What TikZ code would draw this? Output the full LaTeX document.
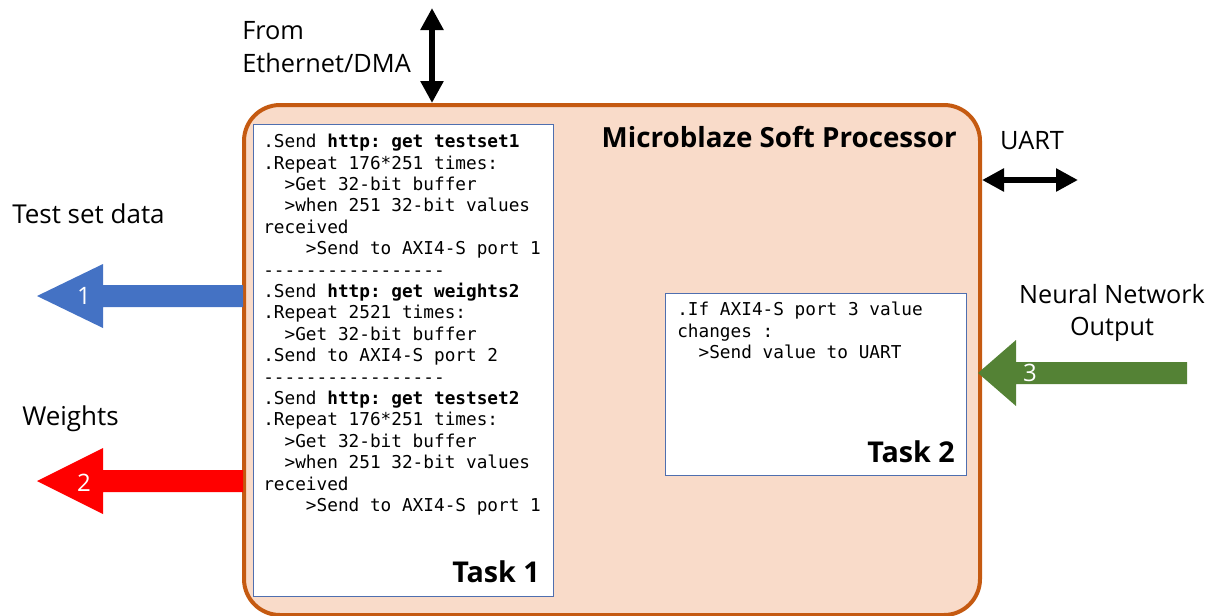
\documentclass[tikz,border=0pt]{standalone}
\usepackage{fontspec}
\setmainfont{Open Sans}
\setmonofont{DejaVu Sans Mono}
\usetikzlibrary{arrows.meta}
\definecolor{procedge}{HTML}{C55A11}
\definecolor{procfill}{HTML}{F9DBC9}
\definecolor{taskedge}{HTML}{4F6FAF}
\definecolor{testblue}{HTML}{4472C4}
\definecolor{weightred}{HTML}{FF0000}
\definecolor{outgreen}{HTML}{548235}
\tikzset{
  procbox/.style={draw=procedge, line width=3pt, fill=procfill, rounded corners=27pt,
    anchor=north west, inner sep=0pt},
  taskbox/.style={draw=taskedge, line width=0.8pt, fill=white, anchor=north west, inner sep=0pt},
  codetext/.style={font=\ttfamily\fontsize{13.3}{16.05}\selectfont, align=left,
    anchor=north west, inner sep=0pt},
  sidetext/.style={font=\fontsize{19}{24.75}\selectfont, inner sep=0pt},
  bigtext/.style={font=\fontsize{19.5}{24}\selectfont, inner sep=0pt},
  tasktitle/.style={font=\bfseries\fontsize{21.5}{24}\selectfont, anchor=east, inner sep=0pt},
  arrownum/.style={font=\fontsize{18}{20}\selectfont, text=white, inner sep=0pt},
  busarrow/.style={line width=4.5pt, {Triangle[width=16.5pt,length=16.5pt]}-{Triangle[width=16.5pt,length=16.5pt]}}
}
\newcommand{\ind}[1]{\phantom{#1}}
\begin{document}
\begin{tikzpicture}[x=0.75pt,y=-0.75pt]
	\useasboundingbox (0,0) rectangle (1216,615);
	% processor and its two tasks
	\node[procbox, minimum width=552pt, minimum height=382.5pt] (proc) at (242,103) {};
	\node[font=\bfseries\fontsize{20.8}{24}\selectfont, anchor=east, inner sep=0pt] (title) at (957,137) {Microblaze Soft Processor};
	\node[taskbox, minimum width=225pt, minimum height=354pt] (task1) at (253,124) {};
	\node[taskbox, minimum width=225.75pt, minimum height=136.5pt] (task2) at (665,293) {};
	\node[codetext] (code1) at (263,134) {%
		.Send \textbf{http: get testset1}\\
		.Repeat 176*251 times:\\
		\ind{00}>Get 32-bit buffer\\
		\ind{00}>when 251 32-bit values\\
		received\\
		\ind{0000}>Send to AXI4-S port 1\\
		-----------------\\
		.Send \textbf{http: get weights2}\\
		.Repeat 2521 times:\\
		\ind{00}>Get 32-bit buffer\\
		.Send to AXI4-S port 2\\
		-----------------\\
		.Send \textbf{http: get testset2}\\
		.Repeat 176*251 times:\\
		\ind{00}>Get 32-bit buffer\\
		\ind{00}>when 251 32-bit values\\
		received\\
		\ind{0000}>Send to AXI4-S port 1};
	\node[codetext] (code2) at (677,302) {%
		.If AXI4-S port 3 value\\
		changes :\\
		\ind{00}>Send value to UART};
	\node[tasktitle] (t1) at (540,572) {Task 1};
	\node[tasktitle] (t2) at (955,452) {Task 2};
	% buses
	\node[sidetext, align=left, anchor=west] (eth) at (242,47) {From\\Ethernet/DMA};
	\coordinate (ethtop) at (432,8);
	\draw[busarrow] (ethtop) -- (ethtop |- proc.north);
	\node[sidetext] (uart) at (1032,141) {UART};
	\coordinate (uartend) at (1078,180);
	\draw[busarrow] (proc.east |- uartend) -- (uartend);
	% block arrows
	\fill[testblue] (37,296) -- ++(66,-32) |- (243,285) |- (103,307) -- (103,328) -- cycle;
	\node[arrownum] (n1) at (84,296) {1};
	\node[bigtext, anchor=west] (testset) at (12,214) {Test set data};
	\fill[weightred] (37,481) -- ++(66,-33) |- (243,470) |- (103,492) -- (103,514) -- cycle;
	\node[arrownum] (n2) at (84,483) {2};
	\node[bigtext, anchor=west] (weights) at (22,419) {Weights};
	\fill[outgreen] (978,373) -- ++(38,-33) |- (1187,362) |- (1016,384) -- (1016,406) -- cycle;
	\node[arrownum] (n3) at (1030,373) {3};
	\node[bigtext, font=\fontsize{18.9}{24}\selectfont, align=center] (nnout) at (1112,313) {Neural Network\\Output};
\end{tikzpicture}
\end{document}
